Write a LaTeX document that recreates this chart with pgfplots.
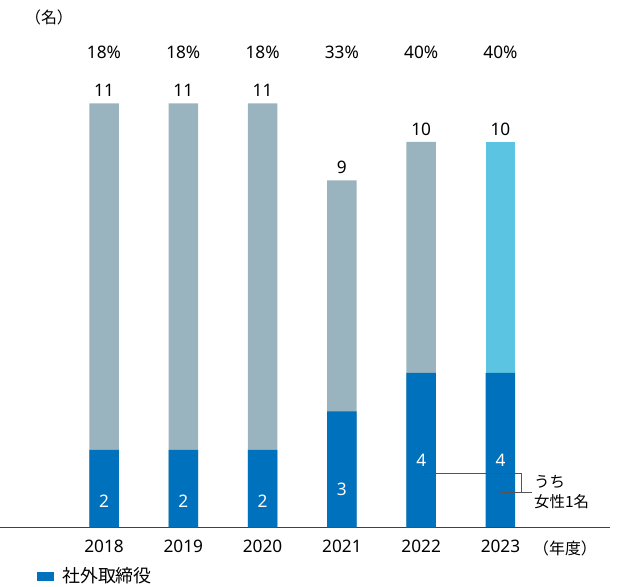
\documentclass[border=0pt]{standalone}
\usepackage{pgfplots}
\pgfplotsset{compat=1.18}
\usepackage{fontspec}
\setmainfont{Noto Sans}
\newfontfamily\jp{Noto Sans CJK JP}
\definecolor{dblue}{HTML}{0071BD}
\definecolor{gblue}{HTML}{9AB4BF}
\definecolor{lcyan}{HTML}{5BC4E3}
\definecolor{lgrey}{HTML}{555555}
\newcommand\numfont{\fontsize{17.3}{20}\selectfont}
\begin{document}
\begin{tikzpicture}
\path[use as bounding box] (0,-60bp) rectangle (624bp,527bp);
\begin{axis}[at={(0,0)}, anchor=south west, scale only axis,
  width=610bp, height=527bp,
  xmin=-1.3115, xmax=6.381, ymin=0, ymax=13.688,
  ybar, bar width=29.5bp, bar shift=0pt,
  axis x line=bottom, axis y line=none,
  x axis line style={-, draw=black!75, line width=0.8bp},
  xtick={0,...,5}, xticklabels={2018,2019,2020,2021,2022,2023},
  major tick length=0, ytick=\empty,
  xticklabel style={font=\numfont, yshift=-9bp},
  clip=false,
  legend style={at={(37bp,-49bp)}, anchor=west, draw=none, fill=none,
    font=\jp\fontsize{18}{22}\selectfont, inner sep=0pt,
    nodes={inner sep=0pt}, column sep=0pt},
  legend cell align=left,
]
% totals (grey part reaches the total)
\addplot[fill=gblue, draw=none]
  coordinates {(0,11) (1,11) (2,11) (3,9) (4,10)};
\addplot[fill=lcyan, draw=none]
  coordinates {(5,10)};
% outside directors
\addplot[fill=dblue, draw=none, legend image code/.code={\fill[dblue] (0bp,-4.5bp) rectangle (16.5bp,4.5bp); \path (25bp,0bp);}]
  coordinates {(0,2) (1,2) (2,2) (3,3) (4,4) (5,4)};
\legend{,,社外取締役}
% inner labels
\node[text=white, font=\numfont] at (axis cs:0,0.66) {2};
\node[text=white, font=\numfont] at (axis cs:1,0.66) {2};
\node[text=white, font=\numfont] at (axis cs:2,0.66) {2};
\node[text=white, font=\numfont] at (axis cs:3,0.98) {3};
\node[text=white, font=\numfont] at (axis cs:4,1.72) {4};
\node[text=white, font=\numfont] at (axis cs:5,1.72) {4};
\node[font=\numfont] at (axis cs:0,11.35) {11};
\node[font=\numfont] at (axis cs:1,11.35) {11};
\node[font=\numfont] at (axis cs:2,11.35) {11};
\node[font=\numfont] at (axis cs:3,9.35) {9};
\node[font=\numfont] at (axis cs:4,10.32) {10};
\node[font=\numfont] at (axis cs:5,10.32) {10};
\node[font=\numfont] at (axis cs:0,12.34) {18\%};
\node[font=\numfont] at (axis cs:1,12.34) {18\%};
\node[font=\numfont] at (axis cs:2,12.34) {18\%};
\node[font=\numfont] at (axis cs:3,12.34) {33\%};
\node[font=\numfont] at (axis cs:4,12.34) {40\%};
\node[font=\numfont] at (axis cs:5,12.34) {40\%};
\draw[lgrey, line width=0.9bp] (axis cs:3.985,1.395) -- (axis cs:5.267,1.395) -- (axis cs:5.267,0.891);
\draw[lgrey, line width=0.9bp] (axis cs:4.994,0.891) -- (axis cs:5.397,0.891);
\node[anchor=west, inner sep=0pt, font=\jp\fontsize{15.5}{18}\selectfont] at (axis cs:5.423,1.177) {うち};
\node[anchor=west, inner sep=0pt, font=\jp\fontsize{15.5}{18}\selectfont] at (axis cs:5.423,0.657) {女性1名};
\end{axis}
\node[font=\jp\fontsize{16}{18}\selectfont] at (49bp,510bp) {（名）};
\node[font=\jp\fontsize{16}{18}\selectfont] at (565bp,-21bp) {（年度）};
\end{tikzpicture}
\end{document}
